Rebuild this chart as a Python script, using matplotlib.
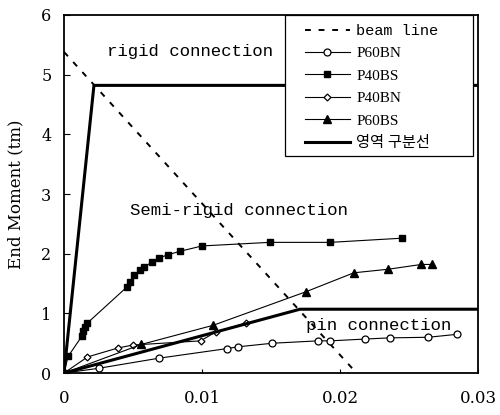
import matplotlib
matplotlib.use("Agg")
import matplotlib.pyplot as plt
from matplotlib.patches import Rectangle

SERIF = ["Liberation Serif", "Noto Sans CJK KR"]
MONO = ["Liberation Mono", "Noto Sans CJK KR"]
TICKF = ["DejaVu Serif"]
plt.rcParams["font.family"] = SERIF

# beam line
beam_x = [0.0, 0.0212]
beam_y = [5.38, 0.0]

# test curves
p60bn_x = [0.0, 0.0025, 0.0069, 0.0118, 0.0126, 0.0151, 0.0184, 0.0193, 0.0218, 0.0236, 0.0264, 0.0285]
p60bn_y = [0.0, 0.08, 0.25, 0.41, 0.44, 0.50, 0.54, 0.54, 0.57, 0.59, 0.60, 0.65]

p40bs_x = [0.0, 0.0003, 0.0013, 0.0014, 0.0015, 0.0017, 0.00455, 0.0048, 0.0051, 0.0055, 0.0058,
           0.0064, 0.0069, 0.0075, 0.0084, 0.0100, 0.0149, 0.0193, 0.0245]
p40bs_y = [0.0, 0.28, 0.62, 0.70, 0.77, 0.84, 1.44, 1.52, 1.64, 1.72, 1.78,
           1.86, 1.93, 1.98, 2.04, 2.13, 2.19, 2.19, 2.26]

p40bn_x = [0.0, 0.0017, 0.0039, 0.0050, 0.0099, 0.0110, 0.0132]
p40bn_y = [0.0, 0.27, 0.42, 0.47, 0.54, 0.69, 0.84]

p60bs_x = [0.0, 0.0056, 0.0108, 0.0175, 0.0210, 0.0235, 0.0259, 0.0267]
p60bs_y = [0.0, 0.48, 0.80, 1.36, 1.68, 1.74, 1.82, 1.82]

# region boundaries (영역 구분선)
rigid_x = [0.0, 0.00217, 0.03]
rigid_y = [0.0, 4.82, 4.82]
pin_x = [0.0, 0.0171, 0.03]
pin_y = [0.0, 1.07, 1.07]

x_ticks = [0, 0.01, 0.02, 0.03]
x_labels = ["0", "0.01", "0.02", "0.03"]
y_ticks = [0, 1, 2, 3, 4, 5, 6]

fig = plt.figure(figsize=(5, 4.15), dpi=100)
ax = fig.add_axes([0.128, 0.101, 0.828, 0.863])

ax.plot(beam_x, beam_y, color="black", lw=1.4, ls=(0, (3, 4)), label="beam line")
ax.plot(p60bn_x, p60bn_y, color="black", lw=0.8, marker="o", ms=5,
        mfc="white", mec="black", mew=0.9, label="P60BN")
ax.plot(p40bs_x, p40bs_y, color="black", lw=0.8, marker="s", ms=5,
        mfc="black", mec="black", label="P40BS")
ax.plot(p40bn_x, p40bn_y, color="black", lw=0.8, marker="D", ms=3.5,
        mfc="white", mec="black", mew=0.9, label="P40BN")
ax.plot(p60bs_x, p60bs_y, color="black", lw=0.8, marker="^", ms=5.5,
        mfc="black", mec="black", label="P60BS")
ax.plot(rigid_x, rigid_y, color="black", lw=2.2, label="영역 구분선")
ax.plot(pin_x, pin_y, color="black", lw=2.2)

ax.text(0.0031, 5.38, "rigid connection", family=MONO, fontsize=12.5, va="center")
ax.text(0.0048, 2.72, "Semi-rigid connection", family=MONO, fontsize=12.5, va="center")
ax.text(0.0175, 0.79, "pin connection", family=MONO, fontsize=12.5, va="center")

ax.set_xlim(0, 0.03)
ax.set_ylim(0, 6)
ax.set_xticks(x_ticks)
ax.set_xticklabels(x_labels, fontsize=12, family=TICKF)
ax.set_yticks(y_ticks)
ax.set_yticklabels([str(v) for v in y_ticks], fontsize=11.5, family=TICKF)
ax.tick_params(axis="y", pad=9, direction="in", length=4)
ax.tick_params(axis="x", pad=12, direction="in", length=3)
ax.set_ylabel("End Moment (tm)", fontsize=12, family=TICKF, labelpad=12)

for spine in ax.spines.values():
    spine.set_linewidth(1.3)

# legend box drawn separately so it can be wider than its content
ax.add_patch(Rectangle((0.534, 0.606), 0.454, 0.394, transform=ax.transAxes,
                       fc="white", ec="black", lw=0.9, zorder=4))
leg = ax.legend(loc="upper left", bbox_to_anchor=(0.582, 0.975), fontsize=11,
                frameon=False, handlelength=2.95, handletextpad=0.4,
                labelspacing=0.57, borderpad=0.0, borderaxespad=0.0)
leg.set_zorder(5)
leg.get_texts()[0].set_family(MONO)

fig.savefig("out.png", dpi=100)
